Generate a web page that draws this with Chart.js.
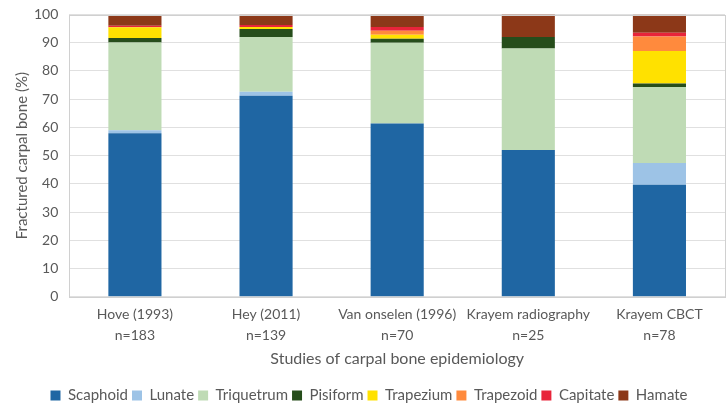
<!DOCTYPE html>
<html>
<head>
<meta charset="utf-8">
<script src="https://cdn.jsdelivr.net/npm/chart.js@4/dist/chart.umd.min.js"></script>
<style>
  html, body { margin: 0; padding: 0; background: #fff; }
  #wrap { width: 727px; height: 407px; position: relative; }
</style>
</head>
<body>
<div id="wrap"><canvas id="chart"></canvas></div>
<script>
// studies on the x axis (two line labels)
var studies = [
    ['Hove (1993)', 'n=183'],
    ['Hey (2011)', 'n=139'],
    ['Van onselen (1996)', 'n=70'],
    ['Krayem radiography', 'n=25'],
    ['Krayem CBCT', 'n=78']
];
var yTicks = [0, 10, 20, 30, 40, 50, 60, 70, 80, 90, 100];

// percent of fractures per carpal bone
var scaphoid   = [57.9, 71.2, 61.4, 52, 39.7];
var lunate     = [1.1, 1.4, 0, 0, 7.7];
var triquetrum = [31.1, 19.4, 28.6, 36, 26.9];
var pisiform   = [1.6, 2.9, 1.4, 4, 1.3];
var trapezium  = [3.8, 0.7, 1.4, 0, 11.5];
var trapezoid  = [0, 0, 1.4, 0, 5.1];
var capitate   = [0.5, 0.7, 1.4, 0, 1.3];
var hamate     = [3.8, 3.6, 4.3, 8, 6.4];

var bones = ['Scaphoid', 'Lunate', 'Triquetrum', 'Pisiform', 'Trapezium', 'Trapezoid', 'Capitate', 'Hamate'];
var values = [scaphoid, lunate, triquetrum, pisiform, trapezium, trapezoid, capitate, hamate];
var colours = ['#1F66A3', '#9DC3E6', '#BFDBB5', '#264D1B', '#FFE100', '#FF8A3D', '#E8243A', '#8C3818'];

var datasets = [];
for (var i = 0; i < bones.length; i++) {
    datasets.push({
        label: bones[i],
        data: values[i],
        backgroundColor: colours[i],
        borderWidth: 0,
        barPercentage: 0.81,
        categoryPercentage: 0.5
    });
}

var grey = '#595959';
var font = "Lato, 'Open Sans', sans-serif";

// light frame round the plot area
var plotFrame = {
    id: 'plotFrame',
    afterDraw: function(chart) {
        var a = chart.chartArea;
        var ctx = chart.ctx;
        ctx.save();
        ctx.strokeStyle = '#d0d0d0';
        ctx.lineWidth = 1;
        ctx.strokeRect(Math.round(a.left) + 0.5, Math.round(a.top) + 0.5, Math.round(a.right - a.left), Math.round(a.bottom - a.top));
        ctx.restore();
    }
};

new Chart(document.getElementById('chart'), {
    type: 'bar',
    data: { labels: studies, datasets: datasets },
    plugins: [plotFrame],
    options: {
        responsive: true,
        maintainAspectRatio: false,
        animation: false,
        layout: { padding: { left: 13, right: 2, top: 0, bottom: -6 } },
        plugins: {
            tooltip: { enabled: false },
            legend: {
                position: 'bottom',
                labels: {
                    color: grey,
                    font: { family: font, size: 15 },
                    boxWidth: 10,
                    boxHeight: 10,
                    padding: 4
                }
            }
        },
        scales: {
            x: {
                stacked: true,
                grid: { display: false },
                border: { display: false },
                ticks: { color: grey, font: { family: font, size: 14, lineHeight: 1.5 }, maxRotation: 0, padding: -1 },
                title: {
                    display: true,
                    text: 'Studies of carpal bone epidemiology',
                    color: grey,
                    font: { family: font, size: 16 },
                    padding: { top: 4, bottom: 16 }
                }
            },
            y: {
                stacked: true,
                min: 0,
                max: 100,
                afterBuildTicks: function(axis) {
                    axis.ticks = yTicks.map(function(v) { return { value: v }; });
                },
                grid: { color: '#e0e0e0', drawTicks: false },
                border: { display: false },
                ticks: { color: grey, font: { family: font, size: 14, lineHeight: 0.5 }, padding: 11 },
                title: {
                    display: true,
                    text: 'Fractured carpal bone (%)',
                    color: grey,
                    font: { family: font, size: 15 },
                    padding: { top: 0, bottom: -8 }
                }
            }
        }
    }
});
</script>
</body>
</html>
